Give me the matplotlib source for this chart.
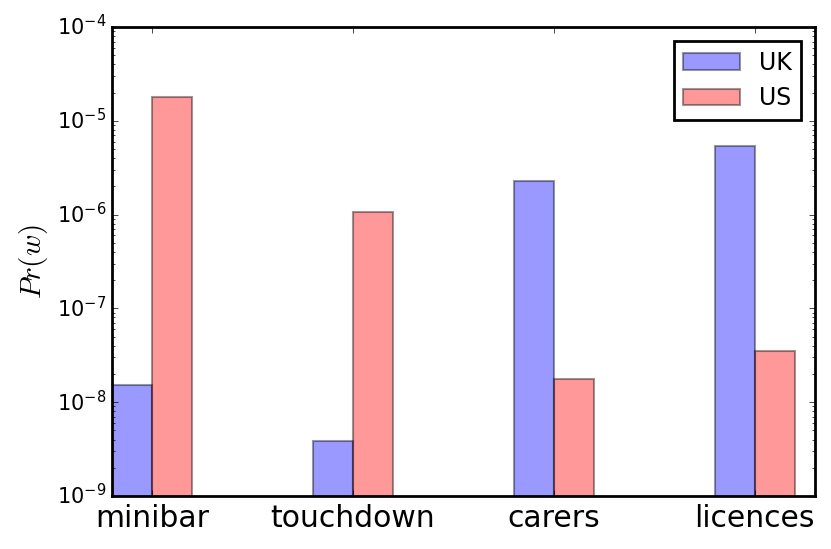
import matplotlib
matplotlib.use("Agg")
import matplotlib.pyplot as plt
import numpy as np

plt.style.use("classic")

words = ["minibar", "touchdown", "carers", "licences"]
ukProbs = [1.54e-8, 3.85e-9, 2.28e-6, 5.43e-6]
usProbs = [1.8e-5, 1.07e-6, 1.77e-8, 3.52e-8]


def main():
    plt.rcParams["axes.linewidth"] = 2
    fig = plt.figure(figsize=(8.31, 5.49), dpi=100, facecolor="white")
    ax = fig.add_axes([112 / 831, 53 / 549, 703 / 831, 469 / 549])
    width = 0.2
    xpos = np.arange(len(words))
    ax.bar(xpos, ukProbs, width=width, align="edge", color="blue", alpha=0.4,
           linewidth=1.5, label="UK")
    ax.bar(xpos + width, usProbs, width=width, align="edge", color="red", alpha=0.4,
           linewidth=1.5, label="US")
    ax.set_yscale("log")
    ax.set_ylim(1e-9, 1e-4)
    ax.set_xlim(0, 3.5)
    ax.set_xticks(xpos + width)
    ax.set_xticklabels(words, fontsize=21.5)
    ax.tick_params(axis="y", labelsize=15)
    ax.tick_params(axis="x", pad=6)
    ax.set_ylabel("$Pr(w)$", fontsize=21)
    leg = ax.legend(loc="upper right", fontsize=17, borderaxespad=0.6,
                    handlelength=2.4)
    leg.get_frame().set_linewidth(2)
    fig.savefig("out.png", dpi=100, facecolor="white")


if __name__ == '__main__':
    main()
